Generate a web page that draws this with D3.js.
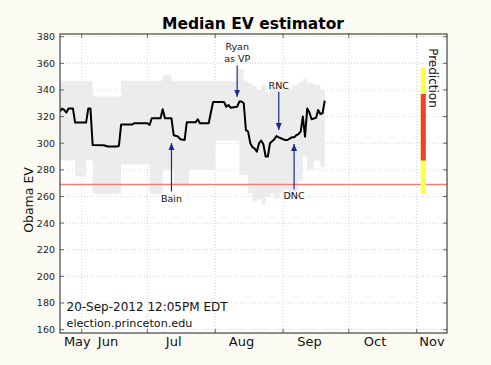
<!DOCTYPE html>
<html>
<head>
<meta charset="utf-8">
<title>Median EV estimator</title>
<script src="https://d3js.org/d3.v7.min.js"></script>
<style>
  body { margin: 0; background: #fbfbf4; }
  svg { display: block; font-family: "DejaVu Sans", sans-serif; }
</style>
</head>
<body>
<svg id="chart" width="491" height="365"></svg>
<script>
"use strict";

// median electoral votes, a point wherever the value changes
var medianDates = ["2012-05-22","2012-05-23","2012-05-24","2012-05-25","2012-05-26","2012-05-28","2012-05-29",
  "2012-06-03","2012-06-04","2012-06-05","2012-06-06","2012-06-11","2012-06-13","2012-06-17","2012-06-18","2012-06-19",
  "2012-06-24","2012-06-25","2012-07-01","2012-07-02","2012-07-03","2012-07-07","2012-07-08","2012-07-09","2012-07-12",
  "2012-07-13","2012-07-15","2012-07-16","2012-07-18","2012-07-19","2012-07-23","2012-07-24","2012-07-25","2012-07-29",
  "2012-07-31","2012-08-05","2012-08-06","2012-08-07","2012-08-08","2012-08-11","2012-08-12","2012-08-13","2012-08-14",
  "2012-08-15","2012-08-16","2012-08-17","2012-08-18","2012-08-19","2012-08-20","2012-08-21","2012-08-22","2012-08-23",
  "2012-08-24","2012-08-25","2012-08-26","2012-08-27","2012-08-28","2012-08-29","2012-08-30","2012-08-31","2012-09-01",
  "2012-09-02","2012-09-03","2012-09-04","2012-09-05","2012-09-06","2012-09-07","2012-09-08","2012-09-09","2012-09-10",
  "2012-09-11","2012-09-12","2012-09-13","2012-09-14","2012-09-15","2012-09-16","2012-09-17","2012-09-18","2012-09-19",
  "2012-09-20"];
var medianEV = [324,326,325,323,326,326,315.5,
  315.5,326,326,298.7,298.5,297.5,297.5,298,314,
  314,315,315,313.7,318.7,318.7,325.5,318.7,318.7,
  306,305,303,302.4,315.7,315.7,318,315,315,
  331,331,327.4,328.7,326.7,327.4,331.3,331.3,330,
  310,308.7,300,297,296,293.6,300,302,299,
  290,290,300,301.5,303,305.4,304.4,303.7,303,
  302.4,302.4,303.5,304.4,304.4,306,306.9,308.7,320,
  305,326,323,318,318.5,319,325,322,322.5,
  332];

// 95% band around the median (stepped)
var bandDates = ["2012-05-22","2012-05-29","2012-06-03","2012-06-06","2012-06-19","2012-07-02","2012-07-07",
  "2012-07-08","2012-07-12","2012-07-13","2012-07-20","2012-08-01","2012-08-11","2012-08-12","2012-08-14",
  "2012-08-16","2012-08-18","2012-08-20","2012-08-22","2012-08-24","2012-08-26","2012-08-28","2012-08-30",
  "2012-09-01","2012-09-03","2012-09-05","2012-09-08","2012-09-10","2012-09-12","2012-09-15","2012-09-18","2012-09-20"];
var bandHigh = [347,347,347,335,347,347,347,351,347,347,347,347,356,356,347,345,343,340,344,338,342,345,339,343,341,344,346,348,345,344,340,340];
var bandLow  = [287,275,287,262,284,262,262,280,280,268,280,302,302,276,276,262,256,258,254,260,262,258,262,265,260,264,272,290,280,287,282,282];

var yTicks = [160,180,200,220,240,260,280,300,320,340,360,380];
var monthTicks = ["2012-06-01","2012-07-01","2012-08-01","2012-09-01","2012-10-01","2012-11-01"];
var monthLabels = ["May","Jun","Jul","Aug","Sep","Oct","Nov"];
var monthLabelDates = ["2012-05-30","2012-06-13","2012-07-13","2012-08-13","2012-09-13","2012-10-13","2012-11-08"];

var tieEV = 269;

var annoLabels = [["Bain"], ["Ryan","as VP"], ["RNC"], ["DNC"]];
var annoDates = ["2012-07-12","2012-08-11","2012-08-30","2012-09-06"];
var annoPointEV = [300.1, 334.9, 309.9, 299.4];
var annoTextEV = [258.8, 372.5, 343.6, 260.6];

var predictionDate = "2012-11-04";
var predOuter = [262, 357];
var predInner = [287, 337];
var predLabelEV = 349;

var stampLines = ["20-Sep-2012 12:05PM EDT", "election.princeton.edu"];

var svg = d3.select("#chart");
var box = { left: 60, right: 447, top: 34, bottom: 333 };
var parse = d3.utcParse("%Y-%m-%d");

var x = d3.scaleUtc()
  .domain([parse("2012-06-01"), parse("2012-11-01")])
  .range([81.7, 416.7]);
var y = d3.scaleLinear()
  .domain([160, 380])
  .range([329.6, 36.7]);

svg.append("defs").append("clipPath").attr("id", "plotclip")
  .append("rect")
  .attr("x", box.left).attr("y", box.top)
  .attr("width", box.right - box.left).attr("height", box.bottom - box.top);

var marker = svg.select("defs").append("marker")
  .attr("id", "head")
  .attr("markerUnits", "userSpaceOnUse")
  .attr("markerWidth", 8).attr("markerHeight", 8)
  .attr("refX", 7).attr("refY", 3)
  .attr("orient", "auto");
marker.append("path").attr("d", "M0,0 L7,3 L0,6 z").attr("fill", "#1a2a8a");

// plot background
svg.append("rect")
  .attr("x", box.left).attr("y", box.top)
  .attr("width", box.right - box.left).attr("height", box.bottom - box.top)
  .attr("fill", "#fff");

// grid
var grid = svg.append("g").attr("stroke", "#c8c8c8").attr("stroke-width", 0.8).attr("stroke-dasharray", "1,2");
grid.selectAll("line.h").data(yTicks).enter().append("line")
  .attr("x1", box.left).attr("x2", box.right)
  .attr("y1", function(d) { return y(d); }).attr("y2", function(d) { return y(d); });
grid.selectAll("line.v").data(monthTicks).enter().append("line")
  .attr("y1", box.top).attr("y2", box.bottom)
  .attr("x1", function(d) { return x(parse(d)); }).attr("x2", function(d) { return x(parse(d)); });

var plot = svg.append("g").attr("clip-path", "url(#plotclip)");

var band = bandDates.map(function(d, i) { return { date: parse(d), hi: bandHigh[i], lo: bandLow[i] }; });
plot.append("path")
  .datum(band)
  .attr("fill", "#ececec")
  .attr("d", d3.area()
    .curve(d3.curveStepAfter)
    .x(function(d) { return x(d.date); })
    .y0(function(d) { return y(d.lo); })
    .y1(function(d) { return y(d.hi); }));

plot.append("line")
  .attr("x1", box.left).attr("x2", box.right)
  .attr("y1", y(tieEV)).attr("y2", y(tieEV))
  .attr("stroke", "#f08080").attr("stroke-width", 1.4);

var median = medianDates.map(function(d, i) { return { date: parse(d), ev: medianEV[i] }; });
plot.append("path")
  .datum(median)
  .attr("fill", "none")
  .attr("stroke", "#000")
  .attr("stroke-width", 2)
  .attr("stroke-linejoin", "round")
  .attr("d", d3.line()
    .x(function(d) { return x(d.date); })
    .y(function(d) { return y(d.ev); }));

// prediction bar
var px = x(parse(predictionDate));
svg.append("line")
  .attr("x1", px).attr("x2", px)
  .attr("y1", y(predOuter[0])).attr("y2", y(predOuter[1]))
  .attr("stroke", "#ffff4a").attr("stroke-width", 5);
svg.append("line")
  .attr("x1", px).attr("x2", px)
  .attr("y1", y(predInner[0])).attr("y2", y(predInner[1]))
  .attr("stroke", "#f04028").attr("stroke-width", 5);
svg.append("text")
  .attr("transform", "translate(433," + y(predLabelEV) + ") rotate(90)")
  .attr("text-anchor", "middle")
  .attr("dominant-baseline", "central")
  .attr("font-size", 12)
  .attr("fill", "#111")
  .text("Prediction");

// annotations
annoLabels.forEach(function(lines, i) {
  var ax = x(parse(annoDates[i]));
  var ty = y(annoTextEV[i]);
  var hy = y(annoPointEV[i]);
  var g = svg.append("g");
  var below = ty > hy;
  lines.forEach(function(t, j) {
    g.append("text")
      .attr("x", ax).attr("y", ty + j * 12.3)
      .attr("text-anchor", "middle")
      .attr("dominant-baseline", "central")
      .attr("font-size", 9.5)
      .attr("fill", "#111")
      .text(t);
  });
  var tail = below ? ty - 6.5 : ty + (lines.length - 1) * 12.3 + 6.5;
  g.append("line")
    .attr("x1", ax).attr("x2", ax)
    .attr("y1", tail).attr("y2", hy)
    .attr("stroke", "#1a2a8a").attr("stroke-width", 1.2)
    .attr("marker-end", "url(#head)");
});

// time stamp
svg.selectAll("text.stamp").data(stampLines).enter().append("text")
  .attr("class", "stamp")
  .attr("x", 66.5)
  .attr("y", function(d, i) { return i === 0 ? 311 : 327; })
  .attr("font-size", function(d, i) { return i === 0 ? 12 : 11.2; })
  .attr("fill", "#111")
  .text(function(d) { return d; });

// frame and ticks
var ticks = svg.append("g").attr("stroke", "#444").attr("stroke-width", 0.8);
yTicks.forEach(function(v) {
  ticks.append("line").attr("x1", box.left).attr("x2", box.left + 4).attr("y1", y(v)).attr("y2", y(v));
  ticks.append("line").attr("x1", box.right - 4).attr("x2", box.right).attr("y1", y(v)).attr("y2", y(v));
});
monthTicks.forEach(function(d) {
  var mx = x(parse(d));
  ticks.append("line").attr("x1", mx).attr("x2", mx).attr("y1", box.bottom).attr("y2", box.bottom - 4);
  ticks.append("line").attr("x1", mx).attr("x2", mx).attr("y1", box.top).attr("y2", box.top + 4);
});
svg.append("rect")
  .attr("x", box.left).attr("y", box.top)
  .attr("width", box.right - box.left).attr("height", box.bottom - box.top)
  .attr("fill", "none").attr("stroke", "#444").attr("stroke-width", 1.2);

svg.selectAll("text.ytick").data(yTicks).enter().append("text")
  .attr("class", "ytick")
  .attr("x", 55)
  .attr("y", function(d) { return y(d); })
  .attr("text-anchor", "end")
  .attr("dominant-baseline", "central")
  .attr("font-size", 9.5)
  .attr("fill", "#222")
  .text(function(d) { return d; });

svg.selectAll("text.month").data(monthLabels).enter().append("text")
  .attr("class", "month")
  .attr("x", function(d, i) { return x(parse(monthLabelDates[i])); })
  .attr("y", 346)
  .attr("text-anchor", "middle")
  .attr("font-size", 13)
  .attr("fill", "#111")
  .text(function(d) { return d; });

svg.append("text")
  .attr("transform", "translate(28,200) rotate(-90)")
  .attr("text-anchor", "middle")
  .attr("dominant-baseline", "central")
  .attr("font-size", 12.5)
  .attr("fill", "#111")
  .text("Obama EV");

svg.append("text")
  .attr("x", 253).attr("y", 29)
  .attr("text-anchor", "middle")
  .attr("font-size", 15.5)
  .attr("font-weight", "bold")
  .attr("fill", "#000")
  .text("Median EV estimator");
</script>
</body>
</html>
